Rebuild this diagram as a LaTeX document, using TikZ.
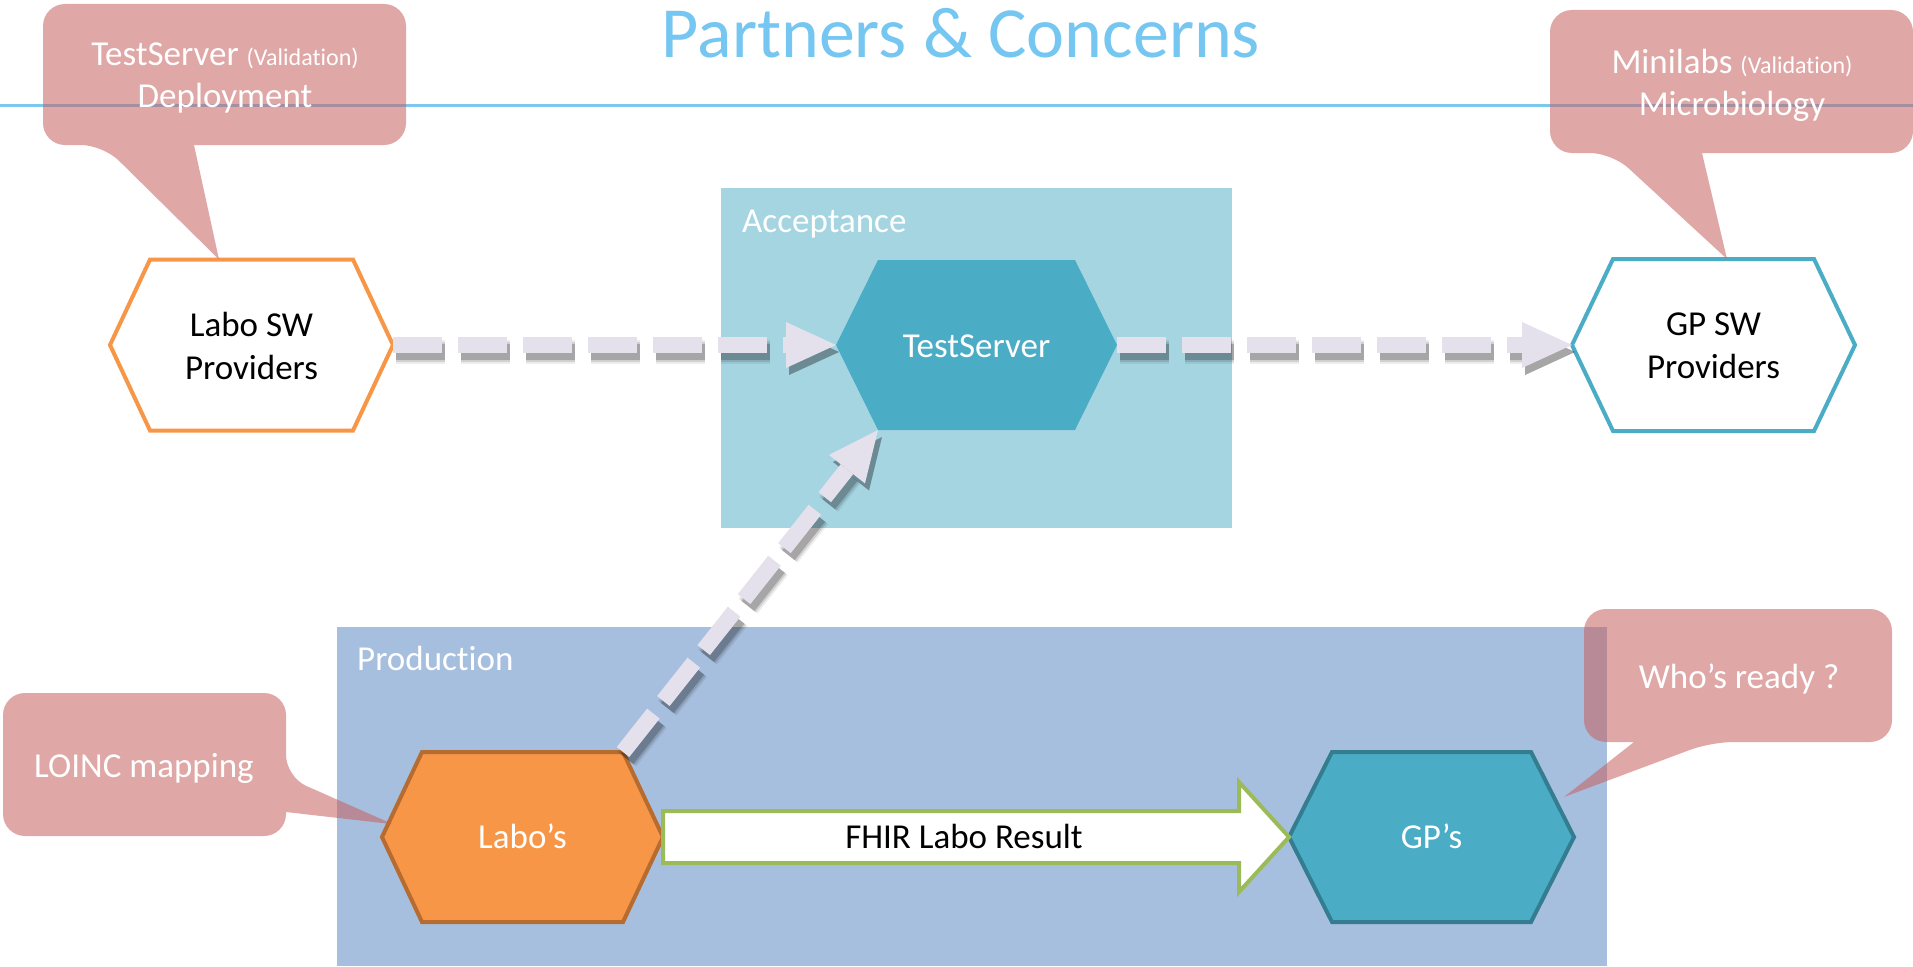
\documentclass[tikz,border=0pt]{standalone}
\usepackage{fontspec}
\setmainfont{Carlito}[Ligatures=NoCommon]
\usetikzlibrary{arrows.meta,calc}
\definecolor{titleblue}{RGB}{117,198,240}
\definecolor{lineblue}{RGB}{125,200,240}
\definecolor{accbg}{RGB}{166,213,226}
\definecolor{prodbg}{RGB}{167,191,222}
\definecolor{tealfill}{RGB}{75,172,198}
\definecolor{tealdark}{RGB}{52,125,145}
\definecolor{laborange}{RGB}{247,150,70}
\definecolor{laborangedark}{RGB}{182,108,49}
\definecolor{callred}{RGB}{199,95,95}
\definecolor{dashlav}{RGB}{228,224,236}
\definecolor{fhirgreen}{RGB}{155,187,89}
\newcommand\HexShape[7]{%
  \coordinate (#1-L) at ({#2-#4},#3);
  \coordinate (#1-TL) at ({#2-#4+#6},{#3-#5});
  \coordinate (#1-TR) at ({#2+#4-#6},{#3-#5});
  \coordinate (#1-R) at ({#2+#4},#3);
  \coordinate (#1-BR) at ({#2+#4-#6},{#3+#5});
  \coordinate (#1-BL) at ({#2-#4+#6},{#3+#5});
  \path[#7] (#1-L) -- (#1-TL) -- (#1-TR) -- (#1-R) -- (#1-BR) -- (#1-BL) -- cycle;
}
\newcommand\ShadowArrow[3]{% #1 from, #2 to, #3 offset
  \draw[dashshadow, line width=24pt, opacity=0.07] ([shift={#3}]#1) -- ([shift={#3}]#2);
  \draw[dashshadow, line width=20pt, opacity=0.12] ([shift={#3}]#1) -- ([shift={#3}]#2);
  \draw[dashshadow, line width=16pt, opacity=0.2] ([shift={#3}]#1) -- ([shift={#3}]#2);
}
\tikzset{
  lbl/.style={inner sep=0pt, font=\fontsize{35}{43}\selectfont},
  whitelbl/.style={lbl, text=white},
  blacklbl/.style={lbl, text=black, align=center},
  calloutshape/.style={fill=callred, fill opacity=0.55},
  callouttext/.style={lbl, text=white, align=center, font=\fontsize{35}{42}\selectfont},
  dasharrow/.style={draw=dashlav, line width=16pt, dash pattern=on 49pt off 16pt,
    -{Triangle[length=50pt,width=46pt,line width=0pt]}},
  dashshadow/.style={draw=black, dash pattern=on 49pt off 16pt,
    -{Triangle[length=50pt,width=46pt,line width=0pt]}},
  fhirbox/.style={fill=white, draw=fhirgreen, line width=4pt, line join=miter},
}
\begin{document}
\begin{tikzpicture}[x=1pt,y=-1pt]
\useasboundingbox (0,0) rectangle (1913,966);
\fill[white] (0,0) rectangle (1913,966);

% title and rule
\node[anchor=base, inner sep=0pt, font=\fontsize{72}{72}\selectfont, text=titleblue] (title) at (961,57) {Partners \& Concerns};
\coordinate (ruleL) at (0,105);
\coordinate (ruleR) at (1913,105);
\draw[lineblue, line width=3pt] (ruleL) -- (ruleR);

% zones
\fill[accbg] (721,188) rectangle (1232,528);
\node[whitelbl, anchor=base west] (acc) at (742,232) {Acceptance};
\fill[prodbg] (337,627) rectangle (1607,966);
\node[whitelbl, anchor=base west] (prod) at (357,670) {Production};

% hexagons
\HexShape{lsw}{251.5}{345}{141.5}{85.5}{40}{draw=laborange, fill=white, line width=4pt}
\HexShape{ts}{976.5}{345}{140.5}{85}{42}{fill=tealfill}
\HexShape{gsw}{1713.5}{345}{141.5}{86}{41}{draw=tealfill, fill=white, line width=4pt}
\HexShape{lab}{522.5}{837}{140.5}{85}{40}{draw=laborangedark, fill=laborange, line width=4pt}
\HexShape{gp}{1431.5}{837}{142.5}{85}{43}{draw=tealdark, fill=tealfill, line width=4pt}

\node[blacklbl] (lswtxt) at (251.5,346) {Labo SW\\Providers};
\node[blacklbl] (gswtxt) at (1713.5,346) {GP SW\\Providers};
\node[whitelbl, anchor=base] (tstxt) at (976.5,357) {TestServer};
\node[whitelbl, anchor=base] (labtxt) at (522.5,848) {Labo’s};
\node[whitelbl, anchor=base] (gptxt) at (1431.5,848) {GP’s};

% FHIR block arrow
\path[fhirbox] ($(lab-R)+(0,-26)$) -- ($(gp-L)+(-50,-26)$) -- ($(gp-L)+(-50,-55)$) -- (gp-L)
  -- ($(gp-L)+(-50,55)$) -- ($(gp-L)+(-50,26)$) -- ($(lab-R)+(0,26)$) -- cycle;
\node[lbl, anchor=base, text=black] (fhirtxt) at (964,848) {FHIR Labo Result};

% dashed arrows with soft shadows
\ShadowArrow{lsw-R}{ts-L}{(3,7)}
\ShadowArrow{ts-R}{gsw-L}{(3,7)}
\ShadowArrow{lab-TR}{ts-BL}{(4,7)}
\draw[dasharrow] (lsw-R) -- (ts-L);
\draw[dasharrow] (ts-R) -- (gsw-L);
\draw[dasharrow] (lab-TR) -- (ts-BL);

% callouts
\coordinate (tipTL) at ($(lsw-TL)!0.34!(lsw-TR)$);
\fill[calloutshape] (194,145) [rounded corners=22] -- (406,145) -- (406,4) -- (43,4) -- (43,145) -- (103,145) [sharp corners] -- (tipTL) -- cycle;
\node[callouttext] (c1txt) at (225,78) {TestServer {\fontsize{24}{24}\selectfont (Validation)}\\Deployment};

\coordinate (tipTR) at ($(gsw-TL)!0.567!(gsw-TR)$);
\fill[calloutshape] (1702,153) [rounded corners=22] -- (1913,153) -- (1913,10) -- (1550,10) -- (1550,153) -- (1612,153) [sharp corners] -- (tipTR) -- cycle;
\node[callouttext] (c2txt) at (1732,85) {Minilabs {\fontsize{24}{24}\selectfont (Validation)}\\Microbiology};

\coordinate (tipLO) at ($(lab-L)!0.15!(lab-TL)+(5,0)$);
\fill[calloutshape] (286,812) [rounded corners=22] -- (286,836) -- (3,836) -- (3,693) -- (286,693) -- (286,777) [sharp corners] -- (tipLO) -- cycle;
\node[callouttext, anchor=base] (c3txt) at (144,777) {LOINC mapping};

\coordinate (tipWR) at (1564,797);
\fill[calloutshape] (1634,742) [rounded corners=22] -- (1584,742) -- (1584,609) -- (1892,609) -- (1892,742) -- (1711,742) [sharp corners] -- (tipWR) -- cycle;
\node[callouttext, anchor=base] (c4txt) at (1739,688) {Who’s ready ?};
\end{tikzpicture}
\end{document}
